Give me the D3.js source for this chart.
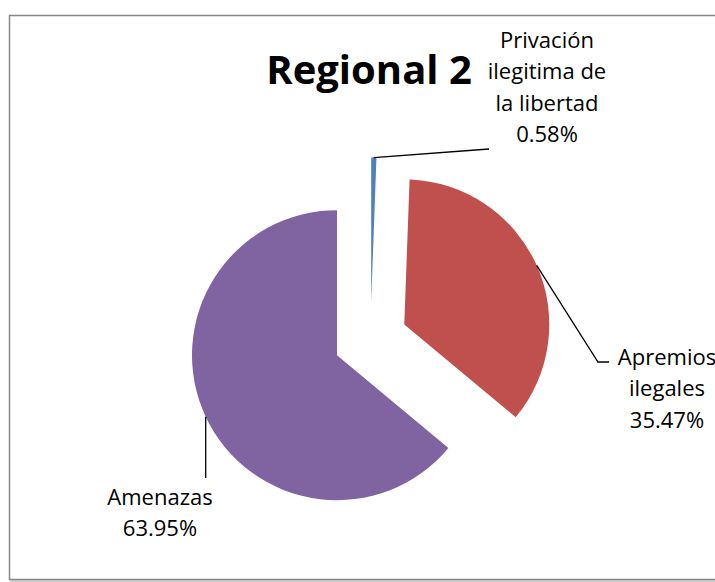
<!DOCTYPE html>
<html>
<head>
<meta charset="utf-8">
<script src="https://cdn.jsdelivr.net/npm/d3@7"></script>
<style>
  html, body { margin: 0; padding: 0; background: #fff; }
  svg { display: block; }
  text { font-family: "Open Sans", Lato, sans-serif; fill: #000; }
</style>
</head>
<body>
<svg id="chart" width="715" height="582"></svg>
<script>
// Distribution of cases, Regional 2
const categories = ["Privación ilegitima de la libertad", "Apremios ilegales", "Amenazas"];
const labelLines = [["Privación", "ilegitima de", "la libertad"], ["Apremios", "ilegales"], ["Amenazas"]];
const values = [0.58, 35.47, 63.95];
const colors = ["#4F81BD", "#C0504D", "#8064A2"];
const title = "Regional 2";

const svg = d3.select("#chart");
const W = 715, H = 582;

// chart frame
svg.append("rect")
  .attr("x", 11).attr("y", 17).attr("width", W).attr("height", 564)
  .attr("fill", "none").attr("stroke", "#d0d0d0").attr("stroke-width", 2);
svg.append("rect")
  .attr("x", 9.5).attr("y", 15.5).attr("width", W).attr("height", 564)
  .attr("fill", "#fff").attr("stroke", "#868686").attr("stroke-width", 1.5);

const cx = 370.5, cy = 339.5, R = 145, explode = 37;

const pie = d3.pie().sort(null).value(d => d.value).startAngle(0).endAngle(2 * Math.PI);
const arc = d3.arc().innerRadius(0).outerRadius(R);
const data = pie(categories.map((c, i) => ({ name: c, value: values[i], lines: labelLines[i], color: colors[i] })));

const mid = d => (d.startAngle + d.endAngle) / 2;
const dir = a => [Math.sin(a), -Math.cos(a)];

const g = svg.append("g").attr("transform", `translate(${cx},${cy})`);

const slices = g.selectAll("g.slice").data(data).join("g")
  .attr("class", "slice")
  .attr("transform", d => {
    const [dx, dy] = dir(mid(d));
    return `translate(${dx * explode},${dy * explode})`;
  });
slices.append("path").attr("d", arc).attr("fill", d => d.data.color);

// label anchors (centre of each text block, first line y) and leader routes
const labelPos = [
  { x: 547, y: 40, path: (p) => [p, [489, 149]] },
  { x: 667, y: 357, path: (p) => [p, [598, 362], [609, 362]] },
  { x: 160, y: 497, path: (p) => [p, [p[0], 478]] }
];
const lineGap = 31.5;
const fmt = v => d3.format(".2f")(v) + "%";

data.forEach((d, i) => {
  const a = mid(d);
  const [dx, dy] = dir(a);
  const p = [cx + dx * (explode + R), cy + dy * (explode + R)];
  const lp = labelPos[i];
  svg.append("path")
    .attr("d", d3.line()(lp.path(p)))
    .attr("fill", "none").attr("stroke", "#000").attr("stroke-width", 1.3);
  const lines = d.data.lines.concat([fmt(d.data.value)]);
  const t = svg.append("text").attr("text-anchor", "middle").attr("font-size", 22);
  lines.forEach((s, k) => {
    t.append("tspan").attr("x", lp.x).attr("y", lp.y + k * lineGap).attr("dy", "0.35em").text(s);
  });
});

svg.append("text")
  .attr("x", 369).attr("y", 70).attr("dy", "0.35em")
  .attr("text-anchor", "middle")
  .attr("font-size", 40).attr("font-weight", "bold")
  .text(title);
</script>
</body>
</html>
